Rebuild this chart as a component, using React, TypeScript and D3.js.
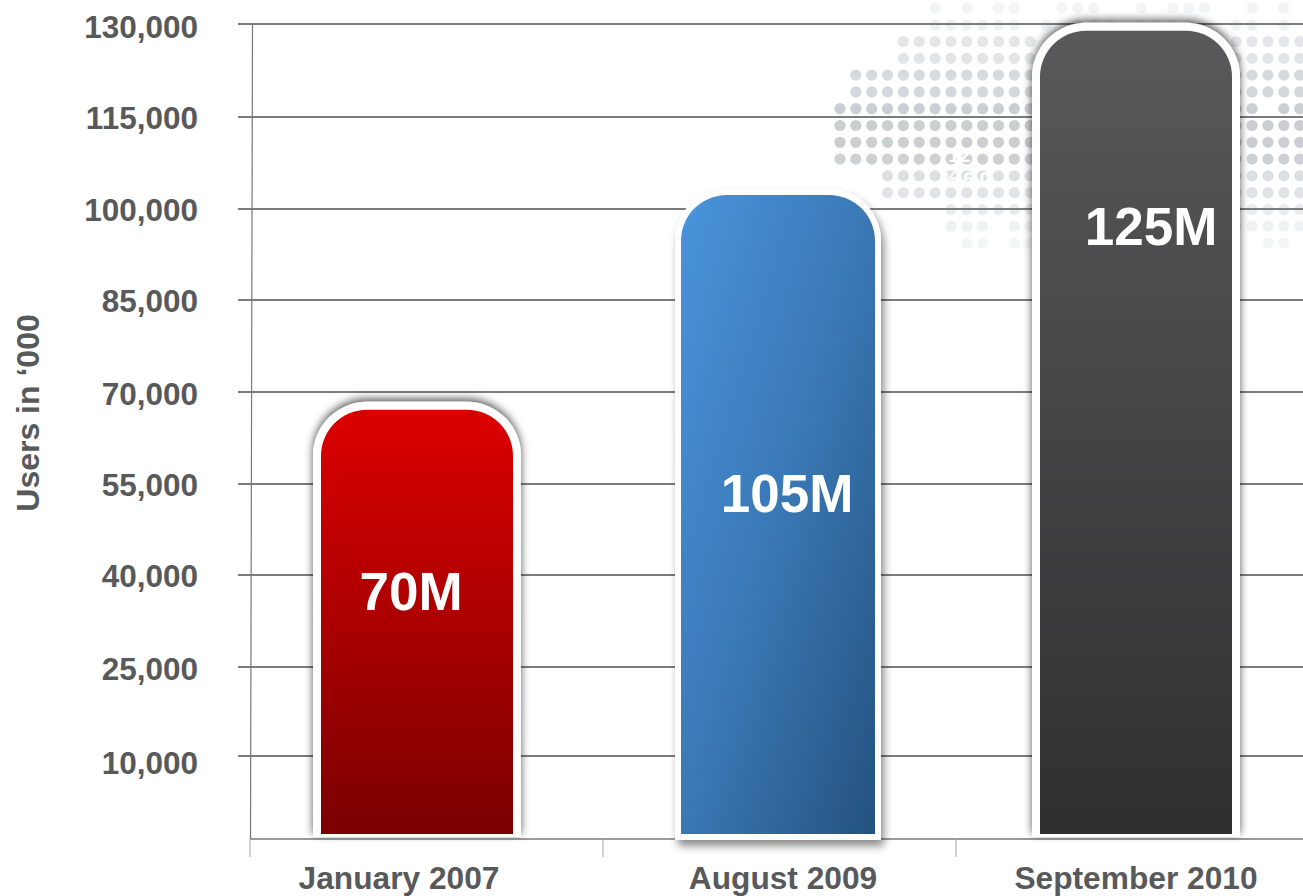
import React from "react";
import * as d3 from "d3";

const categories = ["January 2007", "August 2009", "September 2010"];
const barValues = [67100, 102300, 128900];
const barLabels = ["70M", "105M", "125M"];
const tickValues = [130000, 115000, 100000, 85000, 70000, 55000, 40000, 25000, 10000];

// world-map dot field: each string is a row, each "#" a dot
const mapRows = [
  "......#.#.##..###..#.###..#.#.",
  "......######.#.###.####..##.#.",
  "....#########............#####",
  "....#########............#####",
  ".############............#####",
  ".############............#####",
  "#############............##.##",
  "#############............#####",
  "#############............#####",
  "#############............#####",
  "...##########............#####",
  "...##########............#####",
  ".......######............#####",
  ".......###.##............#####",
  "........##.##..............##.",
];
const mapRowColors = ["#f3f4f6", "#eff0f2", "#e4e6e9", "#e2e4e7", "#d6d9dd", "#d4d7db", "#cbcfd4", "#cbcfd4", "#cbcfd4", "#cdd1d5", "#dde0e3", "#e1e3e6", "#e9ebed", "#f0f1f3", "#f4f5f6"];

const W = 1303;
const H = 896;
const baselineY = 839;
const textColor = "#58595b";
const font = "'Liberation Sans', Arial, sans-serif";

const y = d3
  .scaleLinear()
  .domain([-3300, 10000, 25000, 40000, 55000, 70000, 85000, 100000, 115000, 130000])
  .range([baselineY, 756, 667, 575, 484, 392, 300, 209, 117, 24]);
const xBand = d3.scaleBand<string>().domain(categories).range([250, 1309]);
const xBar = d3.scalePoint<string>().domain(categories).range([417, 1136]);
const mapX = d3.scaleLinear().domain([0, 1]).range([840, 855.85]);
const mapY = d3.scaleLinear().domain([0, 14]).range([8, 243]);

const barFill = ["url(#gRed)", "url(#gBlue)", "url(#gGrey)"];
const barShadow = ["url(#shadowUp)", "url(#shadowDown)", "url(#shadowUp)"];
const barNudge = [0, 1.5, 0];
const barBorder = [8, 6, 8];
const barFoot = [3, 6, 3];
const categoryDx = [-18, 5, 0];
const labelDx = [-6, 9, 15];
const labelY = [610, 512, 245];
const barHalf = [96, 97, 96];
const tickLabelDy = [3, 1, 1, 1, 2, 1, 1, 2, 7];

function topRounded(x0: number, x1: number, top: number, bottom: number, r: number) {
  const p = d3.path();
  p.moveTo(x0, bottom);
  p.lineTo(x0, top + r);
  p.arcTo(x0, top, x0 + r, top, r);
  p.lineTo(x1 - r, top);
  p.arcTo(x1, top, x1, top + r, r);
  p.lineTo(x1, bottom);
  p.closePath();
  return p.toString();
}

export default function App() {
  return (
    <svg
      width={W}
      height={H}
      viewBox={`0 0 ${W} ${H}`}
      style={{ position: "absolute", left: 0, top: 0, background: "#fff", fontFamily: font }}
    >
      <defs>
        <linearGradient id="gRed" x1="0" y1="0" x2="0" y2="1">
          <stop offset="0" stopColor="#dc0000" />
          <stop offset="1" stopColor="#7a0000" />
        </linearGradient>
        <linearGradient id="gBlue" x1="0" y1="0" x2="1" y2="1">
          <stop offset="0" stopColor="#4a94dc" />
          <stop offset="0.5" stopColor="#3a78b5" />
          <stop offset="1" stopColor="#24527e" />
        </linearGradient>
        <linearGradient id="gGrey" x1="0" y1="0" x2="0" y2="1">
          <stop offset="0" stopColor="#59595b" />
          <stop offset="1" stopColor="#2f2f30" />
        </linearGradient>
        <filter id="shadowUp" x="-20%" y="-10%" width="140%" height="120%">
          <feDropShadow dx="0" dy="-3" stdDeviation="4" floodColor="#000" floodOpacity="0.65" />
        </filter>
        <filter id="shadowDown" x="-20%" y="-10%" width="140%" height="120%">
          <feDropShadow dx="3" dy="6" stdDeviation="4" floodColor="#000" floodOpacity="0.45" />
        </filter>
      </defs>

      <g>
        {mapRows.map((row, r) =>
          row.split("").map((c, i) =>
            c === "#" ? (
              <circle key={`${r}-${i}`} cx={mapX(i)} cy={mapY(r)} r={5.6} fill={mapRowColors[r]} />
            ) : null
          )
        )}
      </g>

      <g stroke="#7b7c7e" strokeWidth={1.8}>
        {tickValues.map((t) => (
          <line key={t} x1={238} x2={W} y1={y(t)} y2={y(t)} />
        ))}
      </g>
      <line x1={252.5} x2={250.5} y1={24} y2={baselineY} stroke="#77787a" strokeWidth={1.2} />
      <line x1={250} x2={W} y1={baselineY} y2={baselineY} stroke="#77787a" strokeWidth={1.4} />
      <g stroke="#b4b5b7" strokeWidth={1.2}>
        {categories.map((c) => (
          <line key={c} x1={xBand(c)} x2={xBand(c)} y1={baselineY} y2={857} />
        ))}
      </g>

      {tickValues.map((t, i) => (
        <text
          key={t}
          x={198}
          y={y(t) + tickLabelDy[i]}
          dy="0.36em"
          textAnchor="end"
          fontSize={31.5}
          fontWeight={700}
          fill={textColor}
        >
          {d3.format(",")(t)}
        </text>
      ))}

      <text
        transform="translate(39,413) rotate(-90)"
        textAnchor="middle"
        fontSize={32}
        fontWeight={700}
        fill={textColor}
      >
        Users in ‘000
      </text>

      <g fontSize={20} fontWeight={700} fill="#fff" textAnchor="middle">
        <text x={965} y={162}>127</text>
        <text x={968} y={186} letterSpacing={5}>%60</text>
      </g>

      {categories.map((c, i) => {
        const cx = xBar(c)! + barNudge[i];
        const half = barHalf[i];
        const top = y(barValues[i]);
        const bottom = baselineY - 5;
        const b = barBorder[i];
        return (
          <g key={c}>
            <path
              d={topRounded(cx - half - b, cx + half + b, top - b, bottom + barFoot[i], 46 + b)}
              fill="#fff"
              filter={barShadow[i]}
            />
            <path d={topRounded(cx - half, cx + half, top, bottom, 46)} fill={barFill[i]} />
            <text
              x={cx + labelDx[i]}
              y={labelY[i]}
              textAnchor="middle"
              fontSize={53}
              fontWeight={700}
              fill="#fff"
            >
              {barLabels[i]}
            </text>
            <text
              x={cx + categoryDx[i]}
              y={889}
              textAnchor="middle"
              fontSize={31.7}
              fontWeight={700}
              fill={textColor}
            >
              {c}
            </text>
          </g>
        );
      })}
    </svg>
  );
}
